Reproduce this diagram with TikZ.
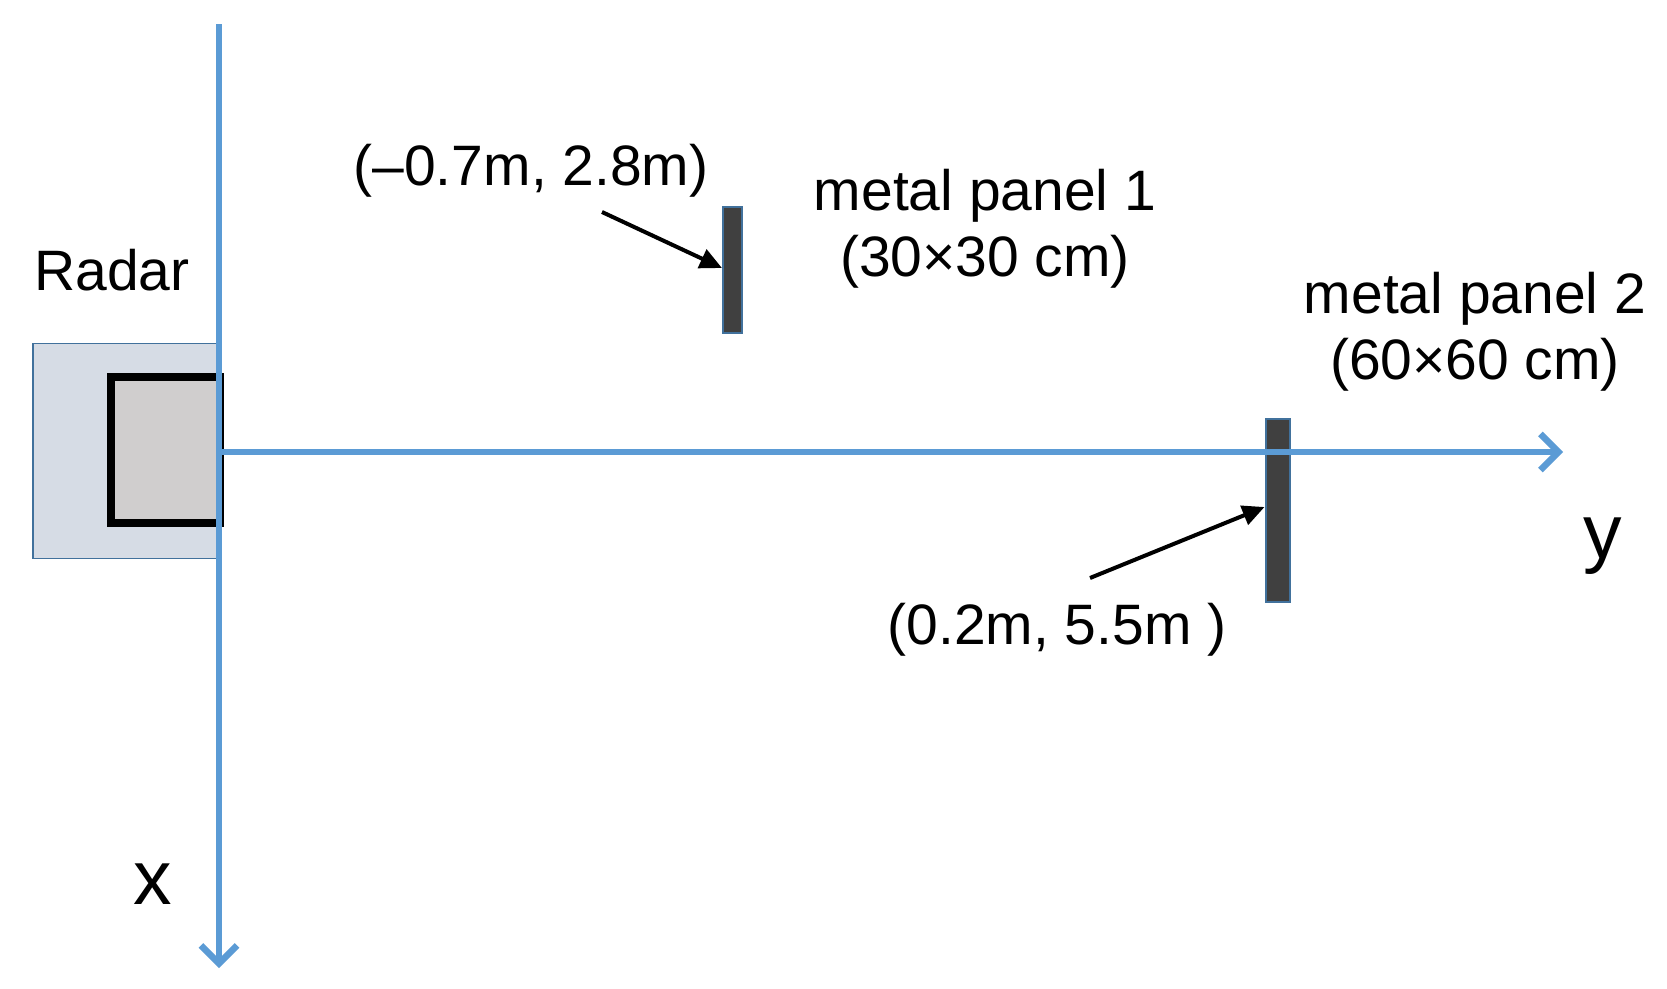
\documentclass[tikz,border=0pt]{standalone}
\usepackage{fontspec}
\setmainfont{Liberation Sans}
\usetikzlibrary{arrows.meta}
\definecolor{axisblue}{HTML}{5B9BD5}
\definecolor{outerfill}{HTML}{D6DCE5}
\definecolor{outerline}{HTML}{41719C}
\definecolor{innerfill}{HTML}{D0CECE}
\definecolor{panelfill}{HTML}{404040}
\tikzset{
  lbl/.style={font=\fontsize{57}{66}\selectfont, inner sep=0pt, align=center},
  axlbl/.style={font=\fontsize{77}{80}\selectfont, inner sep=0pt, anchor=base},
  axisline/.style={draw=axisblue, line width=6pt, -{Straight Barb[length=18pt,width=36pt,line width=6.5pt]}},
  pointer/.style={draw=black, line width=4pt, -{Triangle[length=22pt,width=20pt]}},
  panel/.style={draw=outerline, line width=2pt, fill=panelfill, inner sep=0pt, minimum width=#1},
}
\begin{document}
\begin{tikzpicture}[x=1pt,y=-1pt]
\useasboundingbox (0,0) rectangle (1667,988);
% radar
\node[draw=outerline, line width=1.8pt, fill=outerfill, minimum width=185pt, minimum height=215pt, inner sep=0pt] (outer) at (125.5,451) {};
\node[draw=black, line width=8.5pt, fill=innerfill, minimum width=109pt, minimum height=146pt, inner sep=0pt] (inner) at (165.5,450) {};
\node[lbl] (radar) at (112,270) {Radar};
% panels
\node[panel=19pt, minimum height=126pt] (p1) at (732.5,270) {};
\node[panel=24pt, minimum height=183pt] (p2) at (1277.5,510.5) {};
% axes
\coordinate (o) at (220,452);
\coordinate (xtop) at (219,24);
\coordinate (xend) at (219,968);
\coordinate (yend) at (1563,452);
\draw[axisline] (xtop) -- (xend);
\draw[axisline] (o) -- (yend);
\node[axlbl] (xl) at (153,904) {x};
\node[axlbl] (yl) at (1603,558) {y};
% labels
\node[lbl] (l1) at (531,171) {(–0.7m, 2.8m)};
\node[lbl] (n1) at (985,229) {metal panel 1\\(30×30 cm)};
\node[lbl] (n2) at (1475,332) {metal panel 2\\(60×60 cm)};
\node[lbl] (l2) at (1057,630) {(0.2m, 5.5m )};
% pointers
\coordinate (a1) at (602,212);
\coordinate (a2) at (1090,578);
\draw[pointer] (a1) -- (p1.west |- 0,268);
\draw[pointer] (a2) -- (p2.west |- 0,507);
\end{tikzpicture}
\end{document}
